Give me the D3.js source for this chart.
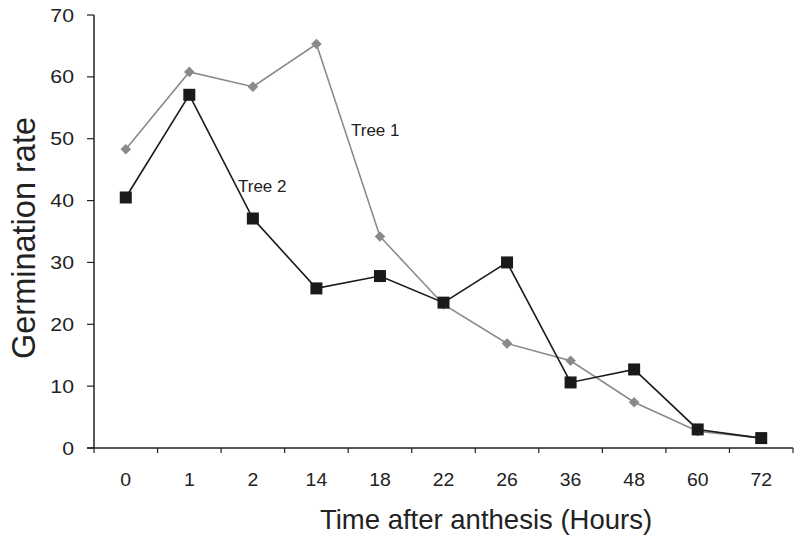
<!DOCTYPE html>
<html><head><meta charset="utf-8">
<script src="https://cdn.jsdelivr.net/npm/d3@7"></script>
<style>body{margin:0;background:#fff;} text{font-family:"Liberation Sans",Arial,sans-serif;fill:#222;}</style>
</head><body><svg id="c" width="802" height="536"></svg>
<script>
const categories = ["0","1","2","14","18","22","26","36","48","60","72"];
const tree1 = [48.3, 60.8, 58.4, 65.3, 34.2, 23.2, 16.9, 14.1, 7.4, 2.7, 1.6];
const tree2 = [40.5, 57.1, 37.1, 25.8, 27.8, 23.5, 30.0, 10.6, 12.7, 3.0, 1.6];
const yTicks = [0,10,20,30,40,50,60,70];

const svg = d3.select("#c");
const x = d3.scaleBand().domain(categories).range([94, 793]);
const y = d3.scaleLinear().domain([0,70]).range([448, 15]);

// axes
const xAxis = svg.append("g").attr("transform","translate(0,448)");
xAxis.append("line").attr("x1",87).attr("x2",793).attr("stroke","#222").attr("stroke-width",1.5);
const bounds = categories.map(c=>x(c)).concat([x.range()[1]]);
xAxis.selectAll("line.t").data(bounds).enter().append("line")
  .attr("x1",d=>d).attr("x2",d=>d).attr("y1",0).attr("y2",5).attr("stroke","#222").attr("stroke-width",1.2);
xAxis.selectAll("text").data(categories).enter().append("text")
  .attr("transform",d=>`translate(${x(d)+x.bandwidth()/2},38) scale(1.08,1)`).attr("text-anchor","middle")
  .attr("font-size",18).text(d=>d);

const yAxis = svg.append("g");
yAxis.append("line").attr("x1",94).attr("x2",94).attr("y1",15).attr("y2",448).attr("stroke","#222").attr("stroke-width",1.5);
yAxis.selectAll("line.t").data(yTicks).enter().append("line")
  .attr("x1",87).attr("x2",94).attr("y1",d=>y(d)).attr("y2",d=>y(d)).attr("stroke","#222").attr("stroke-width",1.2);
yAxis.selectAll("text").data(yTicks).enter().append("text")
  .attr("transform",d=>`translate(74,${y(d)+6.5}) scale(1.12,1)`).attr("text-anchor","end").attr("font-size",19).text(d=>d);

svg.append("text").attr("transform","translate(35,238) rotate(-90)").attr("text-anchor","middle")
  .attr("font-size",32.5).text("Germination rate");
svg.append("text").attr("x",486).attr("y",529).attr("text-anchor","middle")
  .attr("font-size",27.5).text("Time after anthesis (Hours)");

const cx = d=>x(d)+x.bandwidth()/2;
const line = d3.line().x((d,i)=>cx(categories[i])).y(d=>y(d));

// Tree 1 gray
svg.append("path").datum(tree1).attr("d",line).attr("fill","none").attr("stroke","#8a8a8a").attr("stroke-width",1.6);
svg.selectAll("path.d1").data(tree1).enter().append("path")
  .attr("d",d3.symbol().type(d3.symbolSquare).size(56))
  .attr("transform",(d,i)=>`translate(${cx(categories[i])},${y(d)}) rotate(45)`)
  .attr("fill","#8a8a8a");

// Tree 2 black
svg.append("path").datum(tree2).attr("d",line).attr("fill","none").attr("stroke","#1a1a1a").attr("stroke-width",1.6);
svg.selectAll("rect.s2").data(tree2).enter().append("rect")
  .attr("x",(d,i)=>cx(categories[i])-6).attr("y",d=>y(d)-6).attr("width",12).attr("height",12)
  .attr("fill","#1a1a1a");

svg.append("text").attr("x",351).attr("y",136).attr("font-size",17).text("Tree 1");
svg.append("text").attr("x",238).attr("y",192).attr("font-size",17).text("Tree 2");
</script></body></html>
